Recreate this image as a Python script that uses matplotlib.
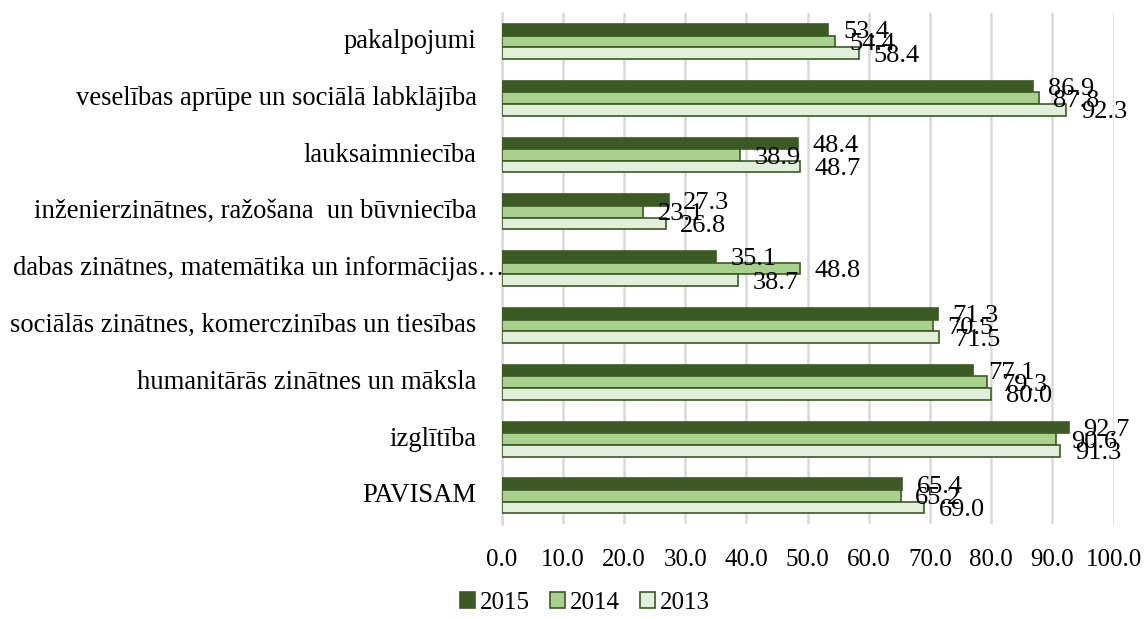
import matplotlib.pyplot as plt
import numpy as np
from matplotlib.patches import Patch

plt.rcParams["font.family"] = ["Liberation Serif", "DejaVu Serif"]

categories = [
    "PAVISAM",
    "izglītība",
    "humanitārās zinātnes un māksla",
    "sociālās zinātnes, komerczinības un tiesības",
    "dabas zinātnes, matemātika un informācijas…",
    "inženierzinātnes, ražošana  un būvniecība",
    "lauksaimniecība",
    "veselības aprūpe un sociālā labklājība",
    "pakalpojumi",
]
years = ["2015", "2014", "2013"]
values_2015 = [65.4, 92.7, 77.1, 71.3, 35.1, 27.3, 48.4, 86.9, 53.4]
values_2014 = [65.2, 90.6, 79.3, 70.5, 48.8, 23.1, 38.9, 87.8, 54.4]
values_2013 = [69.0, 91.3, 80.0, 71.5, 38.7, 26.8, 48.7, 92.3, 58.4]
x_ticks = [0, 10, 20, 30, 40, 50, 60, 70, 80, 90, 100]

EDGE = "#3b5a24"
FILLS = ["#3b5a24", "#a9d18e", "#e2efda"]

fig = plt.figure(figsize=(11.48, 6.19), dpi=100)
ax = fig.add_axes([0.437, 0.153, 0.533, 0.826])

y = np.arange(len(categories))
bar_h = 0.205
offsets = [bar_h, 0.0, -bar_h]
for vals, off, fill in zip([values_2015, values_2014, values_2013], offsets, FILLS, strict=True):
    ax.barh(y + off, vals, height=bar_h, color=fill, edgecolor=EDGE, linewidth=1.2, zorder=3)
    # Excel-style "outside end" labels; they overlap like in the source chart
    for yi, v in zip(y, vals):
        ax.annotate(f"{v:.1f}", xy=(v, yi + off), xytext=(10.5, 0), textcoords="offset points",
                    ha="left", va="center_baseline", fontsize=19, color="#000000", zorder=4)

ax.set_xlim(0, 100)
ax.set_ylim(-0.5, len(categories) - 0.5)
ax.set_xticks(x_ticks)
ax.set_xticklabels([f"{t:.1f}" for t in x_ticks], fontsize=18)
ax.tick_params(axis="x", length=0, pad=18)
ax.set_yticks([])
ax.grid(axis="x", color="#d9d9d9", lw=1.8, zorder=0)
for side in ["top", "right", "bottom"]:
    ax.spines[side].set_visible(False)
ax.spines["left"].set_color("#d9d9d9")
ax.spines["left"].set_linewidth(1.8)

for yi, name in zip(y, categories):
    dx = 2 if name.endswith("…") else -18
    ax.annotate(name, xy=(0, yi), xycoords=("axes fraction", "data"), xytext=(dx, 0),
                textcoords="offset points", ha="right", va="center", fontsize=19.2)

handles = [Patch(facecolor=f, edgecolor=EDGE, linewidth=1.2) for f in FILLS]
fig.legend(handles, years, loc="lower center", bbox_to_anchor=(585 / 1148, -0.028), ncol=3,
           frameon=False, fontsize=18, handlelength=0.6, handleheight=0.6,
           handletextpad=0.2, columnspacing=0.8)

fig.savefig("out.png", dpi=100)
